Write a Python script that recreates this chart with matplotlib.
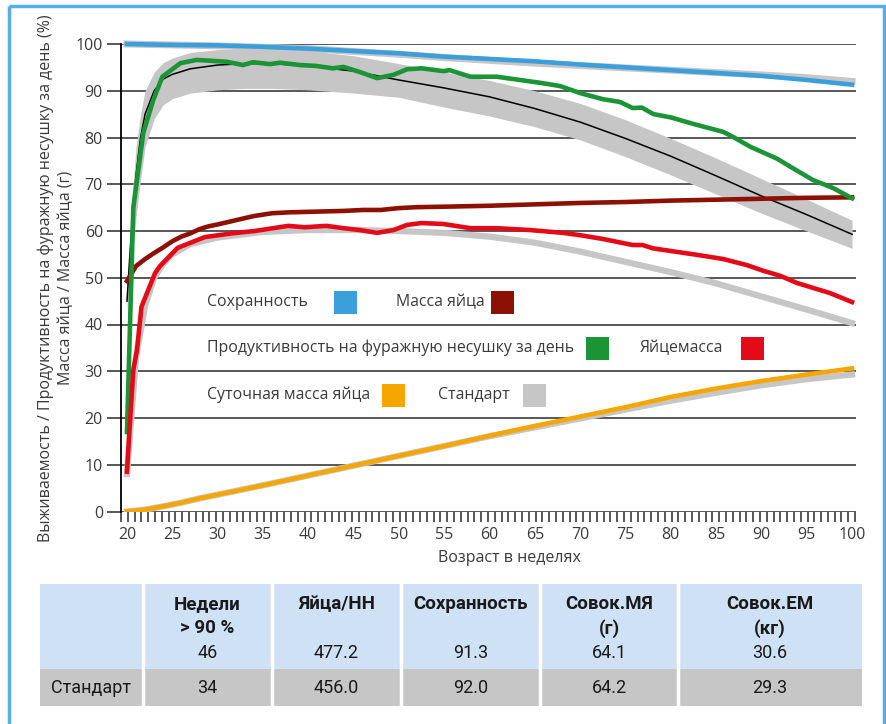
import numpy as np
import matplotlib.pyplot as plt
from matplotlib.patches import Rectangle

plt.rcParams['font.family'] = ['Open Sans', 'DejaVu Sans']

# --- survival, % ---
surv_weeks = [20, 25, 30, 35, 40, 45, 50, 55, 60, 65, 70, 75, 80, 85, 90, 95, 100]
survival = [100, 99.8, 99.7, 99.4, 99.0, 98.5, 98.0, 97.3, 96.8, 96.3, 95.6, 95.0, 94.4, 93.8, 93.2, 92.3, 91.3]
survival_std = [100, 99.8, 99.6, 99.3, 99.0, 98.4, 97.8, 97.1, 96.5, 95.9, 95.4, 94.9, 94.4, 93.9, 93.4, 92.8, 92.0]

# --- hen-day production, % ---
prod_weeks = [20, 20.7, 21.8, 22.9, 23.9, 25.9, 27.7, 31, 32.8, 33.9, 35.8, 36.9, 39.1, 40.9, 42.7,
              43.9, 45.7, 47.6, 49.4, 50.9, 52.5, 54.9, 55.6, 57.9, 60.8, 63.0, 65.6, 67.8, 70,
              72.5, 74.4, 75.8, 76.8, 78.1, 80, 82.5, 85.8, 86.9, 88.8, 91.7, 93.5, 95.7, 97.9, 100]
production = [17, 65, 81, 88, 93, 95.9, 96.6, 96.2, 95.5, 96.1, 95.7, 96.0, 95.5, 95.3, 94.8,
              95.1, 94.0, 92.7, 93.4, 94.6, 94.8, 94.2, 94.4, 93.0, 93.0, 92.4, 91.7, 91.0, 89.5,
              88.2, 87.6, 86.3, 86.4, 85.0, 84.3, 82.9, 81.2, 80.1, 78.0, 75.5, 73.4, 70.9, 69.2, 67.0]

# production standard: centre line and band
std_weeks = [20, 20.5, 21, 21.5, 22, 23, 24, 25, 27, 30, 33, 36, 40, 45, 50, 55, 60, 65, 70, 75, 80, 85, 90, 95, 100]
prod_std = [45, 60, 72, 80, 85, 90, 92.5, 93.5, 94.7, 95.5, 95.8, 95.8, 95.3, 94.2, 92.3, 90.6,
            88.7, 86.2, 83.3, 79.8, 76.0, 71.8, 67.5, 63.5, 59.3]
prod_std_hi = [50, 66, 78, 85, 90, 94, 96, 97, 98.2, 98.8, 98.9, 98.8, 98.5, 97.5, 95.8, 94.0,
               92.2, 90.0, 87.3, 83.8, 79.8, 75.6, 71.2, 66.8, 62.3]
prod_std_lo = [43, 53, 63, 71, 78, 84, 87, 88.3, 89.5, 90.2, 90.5, 90.5, 90.2, 89.5, 88.6, 86.5,
               84.6, 82.3, 79.5, 75.9, 72.0, 67.9, 63.8, 60.0, 56.3]

# --- egg weight, g ---
ew_weeks = [20, 21, 22, 23, 24, 25, 26, 27, 28, 29, 30, 32, 34, 36, 38, 40, 42, 44, 46, 48, 50,
            52, 55, 60, 65, 70, 75, 80, 85, 90, 95, 100]
egg_weight = [49.3, 52.5, 54.0, 55.3, 56.5, 57.8, 58.8, 59.5, 60.4, 61.0, 61.4, 62.3, 63.2, 63.8,
              64.0, 64.1, 64.2, 64.3, 64.5, 64.5, 64.9, 65.1, 65.2, 65.4, 65.7, 66.0, 66.2, 66.5,
              66.7, 66.9, 67.1, 67.2]

# --- egg mass, g ---
em_weeks = [20, 20.3, 20.7, 21.1, 21.6, 23.1, 23.6, 25.6, 28.6, 31.6, 34.1, 37.8, 39.6, 42, 43.9,
            45.7, 47.6, 49.4, 50.9, 52.5, 54.9, 57.9, 60.8, 64.5, 68.1, 70, 72.5, 75.8, 76.9, 78,
            82.9, 85.8, 88.4, 90.2, 92.1, 93.9, 97.6, 100]
egg_mass = [8.5, 18.1, 30.3, 34.5, 43.8, 51.0, 52.4, 56.4, 58.7, 59.5, 60.0, 61.1, 60.8, 61.1, 60.6,
            60.2, 59.6, 60.2, 61.3, 61.7, 61.5, 60.6, 60.6, 60.2, 59.6, 59.1, 58.3, 57.0, 57.0, 56.3,
            54.9, 54.0, 52.7, 51.5, 50.4, 48.9, 46.7, 44.8]
emstd_weeks = [20, 21, 22, 23, 24, 25, 27, 30, 35, 40, 45, 50, 55, 60, 65, 70, 75, 80, 85, 90, 95, 100]
egg_mass_std = [8, 33, 44, 50, 53, 55, 57.2, 58.6, 59.8, 60.2, 60.2, 60.0, 59.6, 58.8, 57.5, 55.6,
                53.4, 51.2, 48.8, 46.0, 43.2, 40.3]

# --- cumulative egg mass, kg ---
cum_weeks = [20, 22, 24, 26, 28, 30, 35, 40, 45, 50, 55, 60, 65, 70, 75, 80, 85, 90, 95, 100]
cum_mass = [0, 0.4, 1.1, 1.9, 2.8, 3.6, 5.6, 7.7, 9.8, 11.9, 14.0, 16.2, 18.3, 20.3, 22.3, 24.5,
            26.3, 27.9, 29.3, 30.6]
cum_mass_std = [0, 0.4, 1.1, 1.9, 2.8, 3.6, 5.6, 7.7, 9.8, 11.9, 14.0, 16.1, 18.0, 19.9, 21.8, 23.7,
                25.4, 27.0, 28.3, 29.3]

# legend entries (text, colour)
legend_items = [('Сохранность', '#3b9fdc'), ('Масса яйца', '#8c1004'),
                ('Продуктивность на фуражную несушку за день', '#1b9436'), ('Яйцемасса', '#e30b18'),
                ('Суточная масса яйца', '#f5a600'), ('Стандарт', '#c6c6c6')]

# summary table
tbl_header = ['', 'Недели\n> 90 %', 'Яйца/НН', 'Сохранность', 'Совок.МЯ\n(г)', 'Совок.ЕМ\n(кг)']
tbl_flock = ['', '46', '477.2', '91.3', '64.1', '30.6']
tbl_std = ['Стандарт', '34', '456.0', '92.0', '64.2', '29.3']

GRAY = '#c6c6c6'
TXT = '#3a3a3a'

fig = plt.figure(figsize=(8.86, 7.24), dpi=100)
ax = fig.add_axes([121 / 886, 1 - 511.5 / 724, 735 / 886, 467.5 / 724])

# standards first, underneath
ax.fill_between(std_weeks, prod_std_lo, prod_std_hi, color=GRAY, lw=0, zorder=2)
ax.plot(std_weeks, prod_std, color='black', lw=1.1, zorder=3)
ax.plot(surv_weeks, survival_std, color=GRAY, lw=5, zorder=2, clip_on=False)
ax.plot(emstd_weeks, egg_mass_std, color=GRAY, lw=4.5, zorder=2)
ax.plot(cum_weeks, cum_mass_std, color=GRAY, lw=4.5, zorder=2)

ax.plot(surv_weeks, survival, color=legend_items[0][1], lw=3.3, zorder=4, clip_on=False)
ax.plot(ew_weeks, egg_weight, color=legend_items[1][1], lw=3.3, zorder=4)
ax.plot(prod_weeks, production, color=legend_items[2][1], lw=3.3, zorder=4)
ax.plot(em_weeks, egg_mass, color=legend_items[3][1], lw=3.3, zorder=4)
ax.plot(cum_weeks, cum_mass, color=legend_items[4][1], lw=3.3, zorder=4)

ax.set_xlim(19.34, 100.44)
ax.set_ylim(0, 100)
ax.set_yticks(np.arange(0, 101, 10))
ax.set_xticks(np.arange(20, 101, 5))
ax.set_xticks(np.arange(19.34, 100.45, 0.75), minor=True)
ax.grid(axis='y', color='#2a2a2a', lw=1.1, zorder=1)
ax.set_axisbelow(True)
for s in ['top', 'right', 'bottom']:
    ax.spines[s].set_visible(False)
ax.spines['left'].set_linewidth(1.3)
ax.tick_params(axis='y', length=10, width=1.1, color='#2a2a2a', pad=3, labelsize=11.5, labelcolor=TXT)
ax.tick_params(axis='x', which='major', length=0, pad=11, labelsize=11.5, labelcolor=TXT)
ax.tick_params(axis='x', which='minor', length=7, width=1.1, color='#2a2a2a')

ax.set_ylabel('Выживаемость / Продуктивность на фуражную несушку за день (%)\nМасса яйца / Масса яйца (г)',
              fontsize=11.5, color=TXT, linespacing=1.3)
ax.yaxis.set_label_coords(-0.064, 0.5)
ax.set_xlabel('Возраст в неделях', fontsize=11.5, color=TXT)
ax.xaxis.set_label_coords(0.529, -0.082)

# overlay in pixel units for the legend, the table and the frame
ov = fig.add_axes([0, 0, 1, 1], zorder=5)
ov.set_xlim(0, 886)
ov.set_ylim(724, 0)
ov.axis('off')
ov.patch.set_alpha(0)

ov.add_patch(Rectangle((9, 6), 875, 730, fill=False, ec='#56aee8', lw=2.5, clip_on=False))

leg_text_x = [207, 396, 207, 640, 207, 438]
leg_box_x = [334, 491, 586, 741, 382, 523]
leg_y = [302, 302, 348, 348, 395, 395]
for (lab, col), tx, bx, y in zip(legend_items, leg_text_x, leg_box_x, leg_y):
    ov.text(tx, y, lab, fontsize=11.4, color=TXT, va='center', ha='left')
    ov.add_patch(Rectangle((bx, y - 11.5), 23, 23, color=col, lw=0))

# table
col_edges = [40, 143, 272, 401, 540, 678, 862]
top, mid, bot = 584, 669, 706
for i in range(len(col_edges) - 1):
    x0, x1 = col_edges[i], col_edges[i + 1]
    ov.add_patch(Rectangle((x0, top), x1 - x0, mid - top, color='#cfe2f5', lw=0))
    ov.add_patch(Rectangle((x0, mid), x1 - x0, bot - mid, color=GRAY, lw=0))
    xc = (x0 + x1) / 2
    ov.text(xc, top + 11, tbl_header[i], fontsize=13.5, fontweight='bold', color='#1a1a1a',
            ha='center', va='top', family='Roboto', linespacing=1.45)
    ov.text(xc, 653, tbl_flock[i], fontsize=13, color='#1a1a1a', ha='center', va='center', family='Roboto')
    ov.text(xc, 688, tbl_std[i], fontsize=13, color='#1a1a1a', ha='center', va='center', family='Roboto')
for x in col_edges[1:-1]:
    ov.plot([x, x], [top, bot], color='white', lw=2.5)

fig.savefig('out.png', dpi=100)
